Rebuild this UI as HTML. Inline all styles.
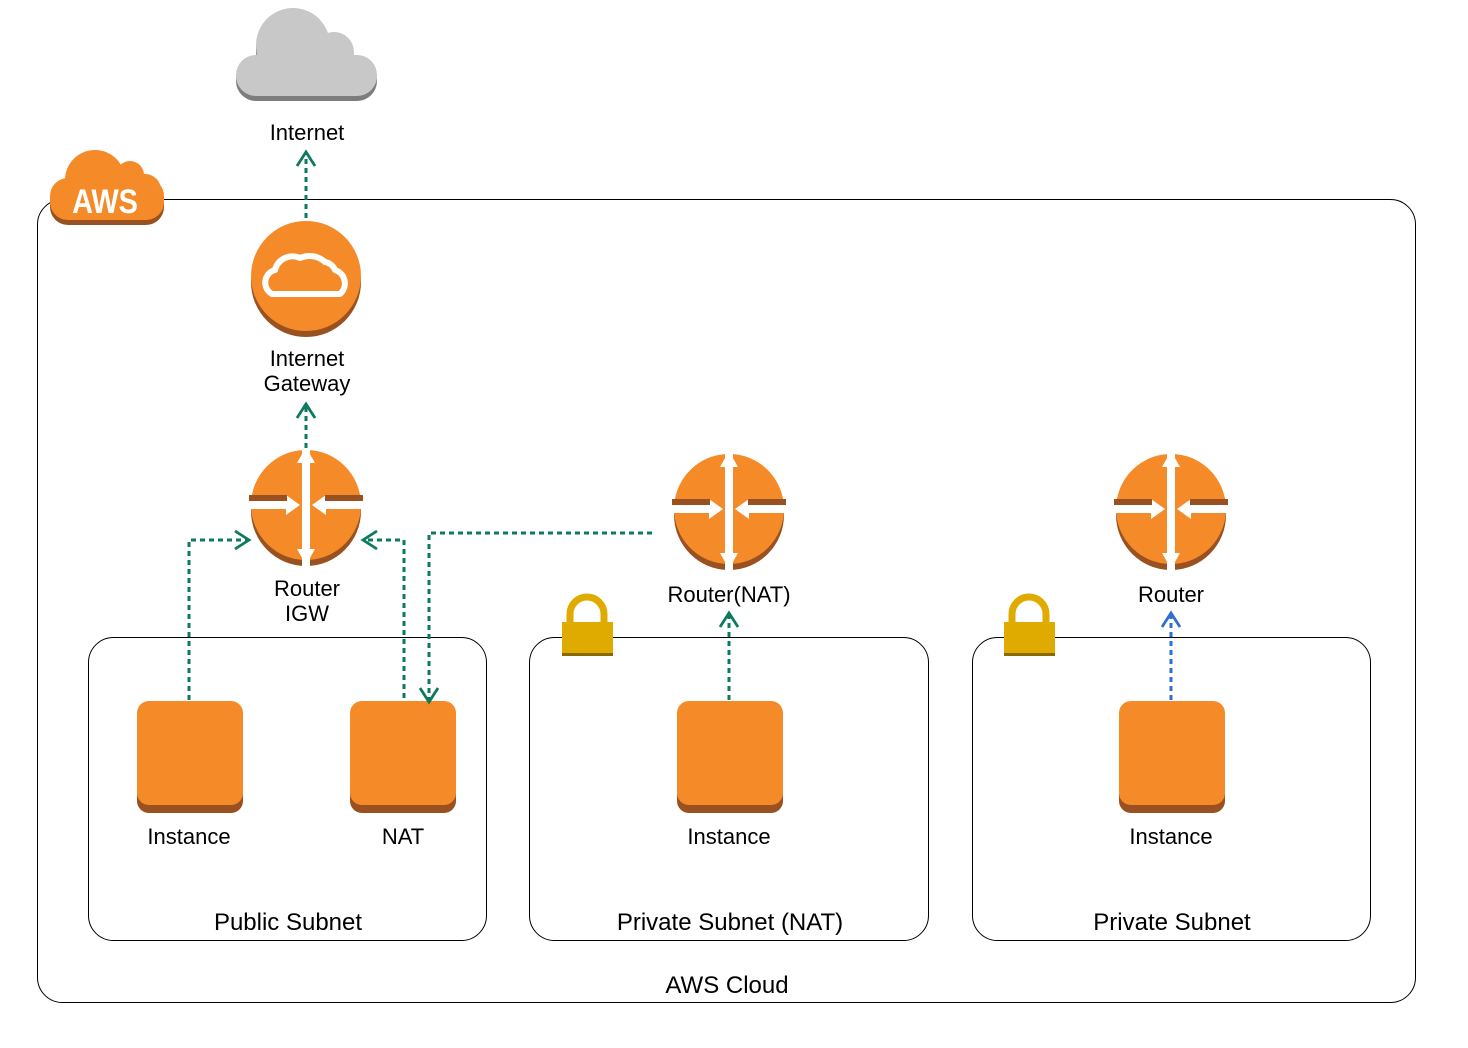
<!DOCTYPE html>
<html><head><meta charset="utf-8"><style>
html,body{margin:0;padding:0;background:#fff;}
svg{display:block;}
text{font-family:"Liberation Sans",Arial,sans-serif;font-size:22px;fill:#000;text-anchor:middle;}
text.big{font-size:24px;}
</style></head><body>
<svg width="1468" height="1048" viewBox="0 0 1468 1048">
<defs>
<g id="router">
<circle cx="0" cy="6" r="55" fill="#9a5121"/>
<circle cx="0" cy="0" r="55" fill="#f58a29"/>
<rect x="-4" y="-55" width="8" height="118" fill="#fff"/>
<path d="M-9,-42 L0,-58 L9,-42 Z" fill="#fff"/>
<path d="M-9,44 L0,60 L9,44 Z" fill="#fff"/>
<rect x="-57" y="-4" width="42" height="8" fill="#fff"/>
<rect x="15" y="-4" width="42" height="8" fill="#fff"/>
<path d="M-20,-10 L-6,0 L-20,10 Z" fill="#fff"/>
<path d="M20,-10 L6,0 L20,10 Z" fill="#fff"/>
<rect x="-57" y="-10" width="38" height="6" fill="#9a5121"/>
<rect x="19" y="-10" width="38" height="6" fill="#9a5121"/>
</g>
<g id="inst">
<rect x="0" y="8" width="106" height="104" rx="12" fill="#9a5121"/>
<rect x="0" y="0" width="106" height="104" rx="12" fill="#f58a29"/>
</g>
<g id="lock">
<path d="M8,28 L8,16 A17,17 0 0 1 42,16 L42,28" fill="none" stroke="#e0ab00" stroke-width="7"/>
<rect x="0" y="24" width="51" height="33" fill="#e0ab00"/>
<rect x="0" y="55" width="51" height="3" fill="#8a6a00"/>
</g>
<marker id="ag" markerWidth="20" markerHeight="24" refX="17" refY="12" orient="auto" markerUnits="userSpaceOnUse"><path d="M3,3 L17,12 L3,21" fill="none" stroke="#0d7a5f" stroke-width="2.8"/></marker>
<marker id="ab" markerWidth="20" markerHeight="24" refX="17" refY="12" orient="auto" markerUnits="userSpaceOnUse"><path d="M3,3 L17,12 L3,21" fill="none" stroke="#2e6fd6" stroke-width="2.8"/></marker>
</defs>

<g fill="#7d7d7d" transform="translate(0,5)">
<rect x="236" y="55" width="141" height="41" rx="20"/>
<circle cx="293" cy="45" r="37"/><circle cx="334" cy="52" r="20"/>
</g>
<g fill="#c8c8c8">
<rect x="236" y="55" width="141" height="41" rx="20"/>
<circle cx="293" cy="45" r="37"/><circle cx="334" cy="52" r="20"/>
</g>
<text x="307" y="140">Internet</text>

<rect x="37.5" y="199.5" width="1378" height="803" rx="25" fill="none" stroke="#000" stroke-width="1"/>
<g transform="translate(0,5)" fill="#9a5121">
<rect x="50" y="178" width="114" height="42" rx="18"/><circle cx="95" cy="180" r="30"/><circle cx="130" cy="175" r="14"/><circle cx="145" cy="190" r="16"/>
</g>
<g fill="#f58a29">
<rect x="50" y="178" width="114" height="42" rx="18"/><circle cx="95" cy="180" r="30"/><circle cx="130" cy="175" r="14"/><circle cx="145" cy="190" r="16"/>
</g>
<text x="105" y="213" style="font-size:34px;fill:#fff;font-weight:bold" transform="translate(105,0) scale(0.85,1) translate(-105,0)">AWS</text>

<circle cx="306" cy="282" r="55" fill="#9a5121"/>
<circle cx="306" cy="276" r="55" fill="#f58a29"/>
<path d="M272,294 A13,13 0 0 1 275,270 A18,18 0 0 1 300,258 A23,23 0 0 1 325,262 A13,13 0 0 1 335,270 A14,14 0 0 1 340,294 Z" fill="none" stroke="#fff" stroke-width="6" stroke-linejoin="round"/>
<text x="307" y="366">Internet</text>
<text x="307" y="391">Gateway</text>

<rect x="88.5" y="637.5" width="398" height="303" rx="25" fill="none" stroke="#000"/>
<rect x="529.5" y="637.5" width="399" height="303" rx="25" fill="none" stroke="#000"/>
<rect x="972.5" y="637.5" width="398" height="303" rx="25" fill="none" stroke="#000"/>
<use href="#lock" x="562" y="598"/>
<use href="#lock" x="1004" y="598"/>

<use href="#router" x="306" y="505"/>
<use href="#router" x="729" y="509"/>
<use href="#router" x="1171" y="509"/>
<text x="307" y="596">Router</text>
<text x="307" y="621">IGW</text>
<text x="729" y="602">Router(NAT)</text>
<text x="1171" y="602">Router</text>

<use href="#inst" x="137" y="701"/>
<use href="#inst" x="350" y="701"/>
<use href="#inst" x="677" y="701"/>
<use href="#inst" x="1119" y="701"/>
<text x="189" y="844">Instance</text>
<text x="403" y="844">NAT</text>
<text x="729" y="844">Instance</text>
<text x="1171" y="844">Instance</text>
<text class="big" x="288" y="930">Public Subnet</text>
<text class="big" x="730" y="930">Private Subnet (NAT)</text>
<text class="big" x="1172" y="930">Private Subnet</text>
<text class="big" x="727" y="993">AWS Cloud</text>

<g fill="none" stroke="#0d7a5f" stroke-width="3" stroke-dasharray="5,4">
<path d="M306,218 L306,152" marker-end="url(#ag)"/>
<path d="M306,448 L306,404" marker-end="url(#ag)"/>
<path d="M189,700 L189,540 L249,540" marker-end="url(#ag)"/>
<path d="M404,698 L404,540 L363,540" marker-end="url(#ag)"/>
<path d="M652,533 L429,533 L429,702" marker-end="url(#ag)"/>
<path d="M729,700 L729,613" marker-end="url(#ag)"/>
</g>
<path d="M1171,700 L1171,613" fill="none" stroke="#2e6fd6" stroke-width="3" stroke-dasharray="5,4" marker-end="url(#ab)"/>
</svg>
</body></html>
